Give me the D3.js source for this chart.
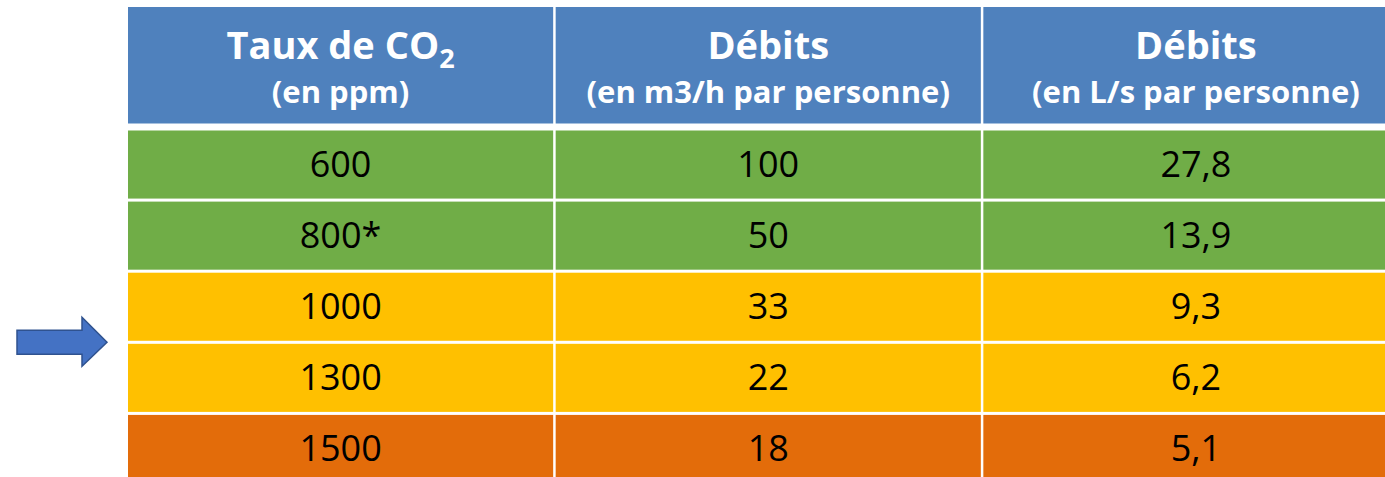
<!DOCTYPE html>
<html>
<head>
<meta charset="utf-8">
<script src="https://cdn.jsdelivr.net/npm/d3@7"></script>
<style>
  html, body { margin: 0; padding: 0; background: #fff; }
  svg { display: block; }
</style>
</head>
<body>
<svg id="chart"></svg>
<script>
// données du tableau
const co2Levels = ["600", "800*", "1000", "1300", "1500"];
const debitM3h = ["100", "50", "33", "22", "18"];
const debitLs = ["27,8", "13,9", "9,3", "6,2", "5,1"];
const rowLevel = ["bon", "bon", "moyen", "moyen", "mauvais"];
const headerTitles = [["Taux de CO", "2"], ["Débits", ""], ["Débits", ""]];
const headerSubs = ["(en ppm)", "(en m3/h par personne)", "(en L/s par personne)"];
const arrowRow = 2;

const width = 1385, height = 477;
const font = "'Open Sans', 'DejaVu Sans', sans-serif";

const levelColor = d3.scaleOrdinal()
  .domain(["bon", "moyen", "mauvais"])
  .range(["#70AD47", "#FFC000", "#E36C0A"]);

const svg = d3.select("#chart")
  .attr("width", width)
  .attr("height", height)
  .style("font-family", font);

// colonnes (le tableau dépasse à droite)
const x = d3.scaleBand()
  .domain(d3.range(3))
  .range([128, 1408.5])
  .paddingInner(2.5 / 426.5);

// lignes du corps
const y = d3.scaleBand()
  .domain(d3.range(co2Levels.length))
  .range([130.5, 130.5 + 70.5 * co2Levels.length])
  .paddingInner(3 / 70.5)
  .paddingOuter(0);

const headTop = 7, headBottom = 123.5;

// en-tête
const head = svg.append("g");
head.selectAll("rect")
  .data(d3.range(3))
  .join("rect")
  .attr("x", d => x(d))
  .attr("y", headTop)
  .attr("width", x.bandwidth())
  .attr("height", headBottom - headTop)
  .attr("fill", "#4F81BD");

const title = head.selectAll("text.title")
  .data(headerTitles)
  .join("text")
  .attr("class", "title")
  .attr("x", (d, i) => x(i) + x.bandwidth() / 2)
  .attr("y", 59)
  .attr("text-anchor", "middle")
  .attr("fill", "#fff")
  .style("font-weight", 700)
  .style("font-size", "38px");
title.append("tspan").text(d => d[0]);
title.filter(d => d[1]).append("tspan")
  .attr("dy", 9)
  .style("font-size", "27px")
  .text(d => d[1]);

head.selectAll("text.sub")
  .data(headerSubs)
  .join("text")
  .attr("class", "sub")
  .attr("x", (d, i) => x(i) + x.bandwidth() / 2)
  .attr("y", 103)
  .attr("text-anchor", "middle")
  .attr("fill", "#fff")
  .style("font-weight", 700)
  .style("font-size", "31px")
  .text(d => d);

// corps
const rows = co2Levels.map((c, i) => ({ i, level: rowLevel[i], cells: [c, debitM3h[i], debitLs[i]] }));

const row = svg.append("g")
  .selectAll("g")
  .data(rows)
  .join("g")
  .attr("transform", d => `translate(0,${y(d.i)})`);

row.selectAll("rect")
  .data(d => d.cells.map((v, j) => ({ v, j, level: d.level })))
  .join("rect")
  .attr("x", d => x(d.j))
  .attr("width", x.bandwidth())
  .attr("height", y.bandwidth())
  .attr("fill", d => levelColor(d.level));

row.selectAll("text")
  .data(d => d.cells.map((v, j) => ({ v, j })))
  .join("text")
  .attr("x", d => x(d.j) + x.bandwidth() / 2)
  .attr("y", y.bandwidth() / 2 + 12.5)
  .attr("text-anchor", "middle")
  .attr("fill", "#000")
  .style("font-size", "36px")
  .text(d => d.v);

// flèche
const ay = y(arrowRow) + y.bandwidth() + 1.5;
const arrow = d3.path();
arrow.moveTo(17, ay - 12);
arrow.lineTo(82, ay - 12);
arrow.lineTo(82, ay - 25);
arrow.lineTo(107, ay);
arrow.lineTo(82, ay + 24);
arrow.lineTo(82, ay + 12);
arrow.lineTo(17, ay + 12);
arrow.closePath();
svg.append("path")
  .attr("d", arrow.toString())
  .attr("fill", "#4472C4")
  .attr("stroke", "#2F528F")
  .attr("stroke-width", 1.5);
</script>
</body>
</html>
